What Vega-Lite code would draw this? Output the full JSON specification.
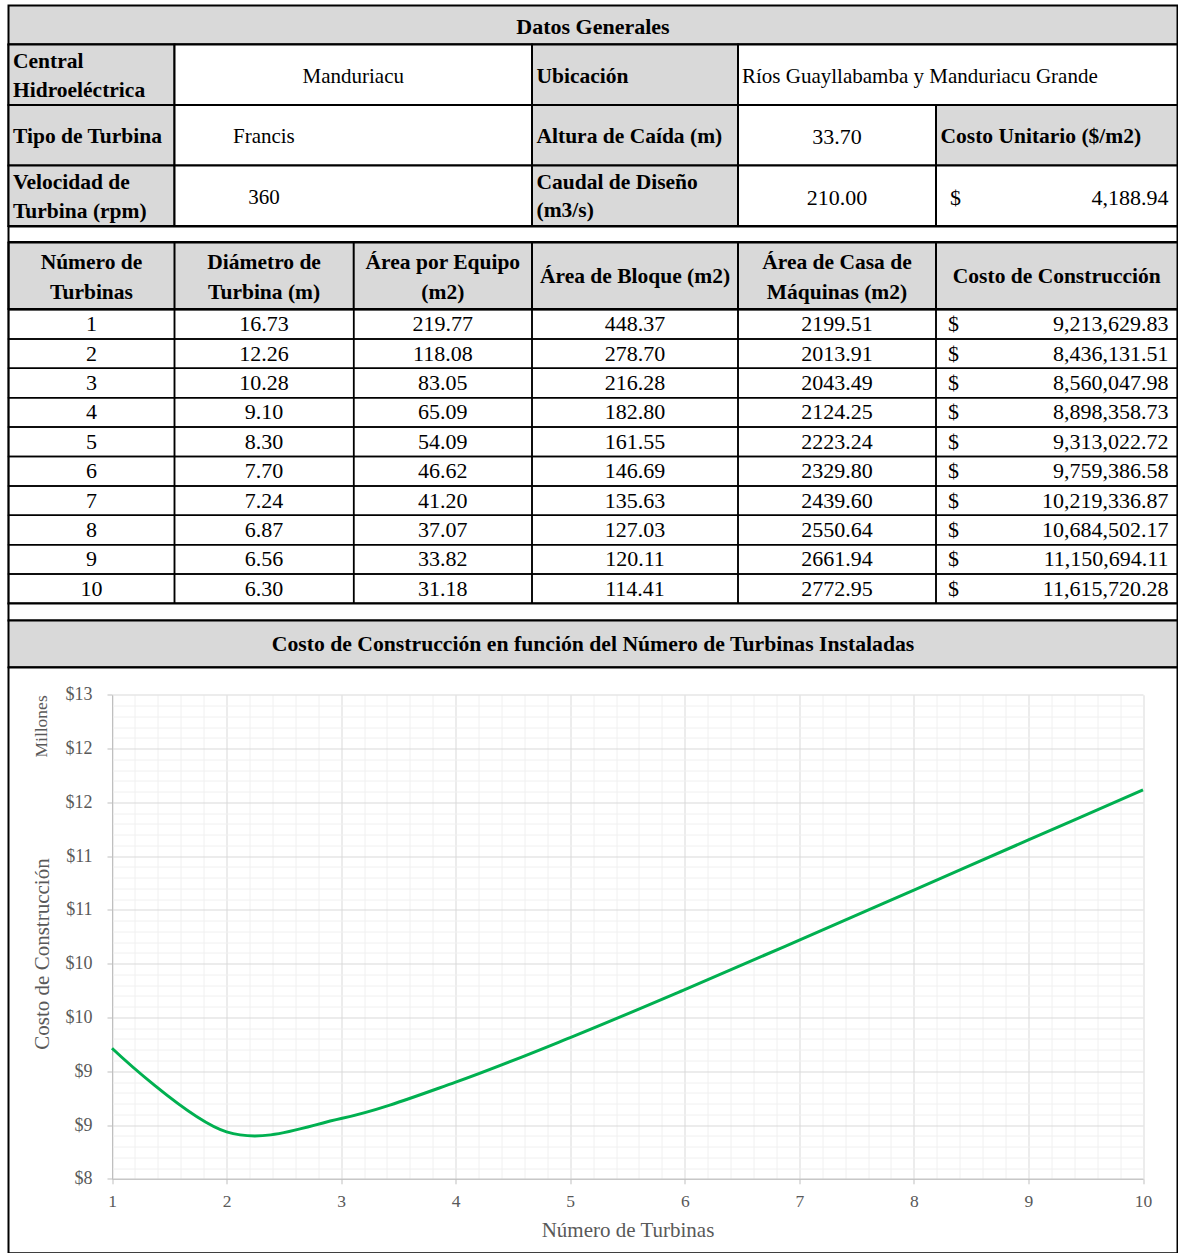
{
  "$schema": "https://vega.github.io/schema/vega-lite/v6.json",
  "padding": {"left": 6.5, "top": 4.5, "right": 0, "bottom": 0},
  "background": "white",
  "spacing": 0,
  "bounds": "flush",
  "config": {
    "view": {"stroke": null},
    "concat": {"spacing": 0},
    "text": {"font": "Liberation Serif", "fontSize": 21, "baseline": "middle", "lineBreak": "\n", "color": "black"},
    "axis": {"labelFont": "Liberation Serif", "titleFont": "Liberation Serif", "labelColor": "#595959", "titleColor": "#595959", "titleFontWeight": "normal", "labelFlush": false, "labelOverlap": false}
  },
  "datasets": {
    "general": [
      {"c": "A", "r": 1, "t": "Central\nHidroeléctrica"},
      {"c": "A", "r": 2, "t": "Tipo de Turbina"},
      {"c": "A", "r": 3, "t": "Velocidad de\nTurbina (rpm)"},
      {"c": "B", "r": 1, "t": "Manduriacu"},
      {"c": "B", "r": 2, "t": "Francis"},
      {"c": "B", "r": 3, "t": "360"},
      {"c": "C", "r": 1, "t": "Ubicación"},
      {"c": "C", "r": 2, "t": "Altura de Caída (m)"},
      {"c": "C", "r": 3, "t": "Caudal de Diseño\n(m3/s)"},
      {"c": "DE", "r": 1, "t": "Ríos Guayllabamba y Manduriacu Grande"},
      {"c": "D", "r": 2, "v": 33.70},
      {"c": "D", "r": 3, "v": 210.00},
      {"c": "E", "r": 2, "t": "Costo Unitario ($/m2)"},
      {"c": "E", "r": 3, "v": 4188.94}
    ],
    "headers": [
      {"c": 1, "t": "Número de\nTurbinas"},
      {"c": 2, "t": "Diámetro de\nTurbina (m)"},
      {"c": 3, "t": "Área por Equipo\n(m2)"},
      {"c": 4, "t": "Área de Bloque (m2)"},
      {"c": 5, "t": "Área de Casa de\nMáquinas (m2)"},
      {"c": 6, "t": "Costo de Construcción"}
    ],
    "tabla": [
      {"n": 1, "d": 16.73, "ae": 219.77, "ab": 448.37, "acm": 2199.51, "cc": 9213629.83},
      {"n": 2, "d": 12.26, "ae": 118.08, "ab": 278.70, "acm": 2013.91, "cc": 8436131.51},
      {"n": 3, "d": 10.28, "ae": 83.05, "ab": 216.28, "acm": 2043.49, "cc": 8560047.98},
      {"n": 4, "d": 9.10, "ae": 65.09, "ab": 182.80, "acm": 2124.25, "cc": 8898358.73},
      {"n": 5, "d": 8.30, "ae": 54.09, "ab": 161.55, "acm": 2223.24, "cc": 9313022.72},
      {"n": 6, "d": 7.70, "ae": 46.62, "ab": 146.69, "acm": 2329.80, "cc": 9759386.58},
      {"n": 7, "d": 7.24, "ae": 41.20, "ab": 135.63, "acm": 2439.60, "cc": 10219336.87},
      {"n": 8, "d": 6.87, "ae": 37.07, "ab": 127.03, "acm": 2550.64, "cc": 10684502.17},
      {"n": 9, "d": 6.56, "ae": 33.82, "ab": 120.11, "acm": 2661.94, "cc": 11150694.11},
      {"n": 10, "d": 6.30, "ae": 31.18, "ab": 114.41, "acm": 2772.95, "cc": 11615720.28}
    ]
  },
  "vconcat": [
    {
      "width": 1169, "height": 39,
      "view": {"fill": "#d9d9d9", "stroke": "black", "strokeWidth": 2},
      "data": {"values": [{"t": "Datos Generales"}]},
      "mark": {"type": "text", "fontWeight": "bold", "fontSize": 22, "dy": 1.5},
      "encoding": {"text": {"field": "t"}}
    },
    {
      "width": 1169, "height": 181.5,
      "view": {"fill": "white", "stroke": "black", "strokeWidth": 2},
      "data": {"name": "general"},
      "resolve": {"scale": {"x": "independent"}},
      "layer": [
        {
          "transform": [{"filter": "datum.c === 'A'"}],
          "layer": [
            {"mark": {"type": "rect", "fill": "#d9d9d9", "stroke": "black", "strokeWidth": 2},
             "encoding": {"x": {"datum": 0, "type": "quantitative", "scale": {"domain": [0, 1], "range": [0, 166]}, "axis": null}, "x2": {"datum": 1},
                          "y": {"field": "r", "type": "ordinal", "scale": {"domain": [1, 2, 3], "paddingInner": 0, "paddingOuter": 0}, "axis": null}}},
            {"transform": [{"filter": "datum.r !== 2"}],
             "mark": {"type": "text", "align": "left", "dx": 4.5, "dy": -13, "fontWeight": "bold", "fontSize": 21.5, "lineHeight": 29},
             "encoding": {"x": {"datum": 0, "type": "quantitative", "axis": null},
                          "y": {"field": "r", "type": "ordinal", "axis": null}, "text": {"field": "t"}}},
            {"transform": [{"filter": "datum.r === 2"}],
             "mark": {"type": "text", "align": "left", "dx": 4.5, "dy": 2, "fontWeight": "bold", "fontSize": 21.5},
             "encoding": {"x": {"datum": 0, "type": "quantitative", "axis": null},
                          "y": {"field": "r", "type": "ordinal", "axis": null}, "text": {"field": "t"}}}
          ]
        },
        {
          "transform": [{"filter": "datum.c === 'B'"}],
          "layer": [
            {"mark": {"type": "rect", "fill": "white", "stroke": "black", "strokeWidth": 2},
             "encoding": {"x": {"datum": 0, "type": "quantitative", "scale": {"domain": [0, 2], "range": [166, 523.5]}, "axis": null}, "x2": {"datum": 2},
                          "y": {"field": "r", "type": "ordinal", "axis": null}}},
            {"transform": [{"filter": "datum.r === 1"}],
             "mark": {"type": "text", "dy": 2},
             "encoding": {"x": {"datum": 1, "type": "quantitative", "axis": null},
                          "y": {"field": "r", "type": "ordinal", "axis": null}, "text": {"field": "t"}}},
            {"transform": [{"filter": "datum.r > 1"}],
             "mark": {"type": "text", "dy": 2},
             "encoding": {"x": {"datum": 0.5, "type": "quantitative", "axis": null},
                          "y": {"field": "r", "type": "ordinal", "axis": null}, "text": {"field": "t"}}}
          ]
        },
        {
          "transform": [{"filter": "datum.c === 'C'"}],
          "layer": [
            {"mark": {"type": "rect", "fill": "#d9d9d9", "stroke": "black", "strokeWidth": 2},
             "encoding": {"x": {"datum": 0, "type": "quantitative", "scale": {"domain": [0, 1], "range": [523.5, 729.5]}, "axis": null}, "x2": {"datum": 1},
                          "y": {"field": "r", "type": "ordinal", "axis": null}}},
            {"transform": [{"filter": "datum.r === 3"}],
             "mark": {"type": "text", "align": "left", "dx": 4.5, "dy": -13, "fontWeight": "bold", "fontSize": 21.5, "lineHeight": 28},
             "encoding": {"x": {"datum": 0, "type": "quantitative", "axis": null},
                          "y": {"field": "r", "type": "ordinal", "axis": null}, "text": {"field": "t"}}},
            {"transform": [{"filter": "datum.r !== 3"}],
             "mark": {"type": "text", "align": "left", "dx": 4.5, "dy": 2, "fontWeight": "bold", "fontSize": 21.5},
             "encoding": {"x": {"datum": 0, "type": "quantitative", "axis": null},
                          "y": {"field": "r", "type": "ordinal", "axis": null}, "text": {"field": "t"}}}
          ]
        },
        {
          "transform": [{"filter": "datum.c === 'DE'"}],
          "layer": [
            {"mark": {"type": "rect", "fill": "white", "stroke": "black", "strokeWidth": 2},
             "encoding": {"x": {"datum": 0, "type": "quantitative", "scale": {"domain": [0, 1], "range": [729.5, 1169]}, "axis": null}, "x2": {"datum": 1},
                          "y": {"field": "r", "type": "ordinal", "axis": null}}},
            {"mark": {"type": "text", "align": "left", "dx": 4, "dy": 2},
             "encoding": {"x": {"datum": 0, "type": "quantitative", "axis": null},
                          "y": {"field": "r", "type": "ordinal", "axis": null}, "text": {"field": "t"}}}
          ]
        },
        {
          "transform": [{"filter": "datum.c === 'D'"}],
          "layer": [
            {"mark": {"type": "rect", "fill": "white", "stroke": "black", "strokeWidth": 2},
             "encoding": {"x": {"datum": 0, "type": "quantitative", "scale": {"domain": [0, 1], "range": [729.5, 927.5]}, "axis": null}, "x2": {"datum": 1},
                          "y": {"field": "r", "type": "ordinal", "axis": null}}},
            {"mark": {"type": "text", "fontSize": 22, "dy": 2},
             "encoding": {"x": {"datum": 0.5, "type": "quantitative", "axis": null},
                          "y": {"field": "r", "type": "ordinal", "axis": null}, "text": {"field": "v", "type": "quantitative", "format": ".2f"}}}
          ]
        },
        {
          "transform": [{"filter": "datum.c === 'E' && datum.r === 2"}],
          "layer": [
            {"mark": {"type": "rect", "fill": "#d9d9d9", "stroke": "black", "strokeWidth": 2},
             "encoding": {"x": {"datum": 0, "type": "quantitative", "scale": {"domain": [0, 1], "range": [927.5, 1169]}, "axis": null}, "x2": {"datum": 1},
                          "y": {"field": "r", "type": "ordinal", "axis": null}}},
            {"mark": {"type": "text", "align": "left", "dx": 4.5, "dy": 2, "fontWeight": "bold", "fontSize": 21.5},
             "encoding": {"x": {"datum": 0, "type": "quantitative", "axis": null},
                          "y": {"field": "r", "type": "ordinal", "axis": null}, "text": {"field": "t"}}}
          ]
        },
        {
          "transform": [{"filter": "datum.c === 'E' && datum.r === 3"}],
          "layer": [
            {"mark": {"type": "rect", "fill": "white", "stroke": "black", "strokeWidth": 2},
             "encoding": {"x": {"datum": 0, "type": "quantitative", "scale": {"domain": [0, 1], "range": [927.5, 1169]}, "axis": null}, "x2": {"datum": 1},
                          "y": {"field": "r", "type": "ordinal", "axis": null}}},
            {"mark": {"type": "text", "align": "left", "dx": 14, "dy": 2, "fontSize": 22},
             "encoding": {"x": {"datum": 0, "type": "quantitative", "axis": null},
                          "y": {"field": "r", "type": "ordinal", "axis": null}, "text": {"value": "$"}}},
            {"mark": {"type": "text", "align": "right", "dx": -9, "dy": 2, "fontSize": 22},
             "encoding": {"x": {"datum": 1, "type": "quantitative", "axis": null},
                          "y": {"field": "r", "type": "ordinal", "axis": null}, "text": {"field": "v", "type": "quantitative", "format": ",.2f"}}}
          ]
        }
      ]
    },
    {
      "width": 1169, "height": 15.5,
      "view": {"fill": "white", "stroke": "black", "strokeWidth": 2},
      "data": {"values": [{}]},
      "mark": {"type": "text"},
      "encoding": {"text": {"value": ""}}
    },
    {
      "width": 1169, "height": 66.5,
      "view": {"fill": "#d9d9d9", "stroke": "black", "strokeWidth": 2},
      "data": {"name": "headers"},
      "resolve": {"scale": {"x": "independent"}},
      "layer": [
        {"transform": [{"filter": "datum.c === 1"}], "layer": [
          {"mark": {"type": "rule", "stroke": "black", "strokeWidth": 2}, "encoding": {"x": {"datum": 0, "type": "quantitative", "scale": {"domain": [0, 1], "range": [0, 166]}, "axis": null}}},
          {"mark": {"type": "text", "fontWeight": "bold", "fontSize": 21.5, "lineHeight": 30, "dy": -13}, "encoding": {"x": {"datum": 0.5, "type": "quantitative", "axis": null}, "text": {"field": "t"}}}
        ]},
        {"transform": [{"filter": "datum.c === 2"}], "layer": [
          {"mark": {"type": "rule", "stroke": "black", "strokeWidth": 2}, "encoding": {"x": {"datum": 0, "type": "quantitative", "scale": {"domain": [0, 1], "range": [166, 345.2]}, "axis": null}}},
          {"mark": {"type": "text", "fontWeight": "bold", "fontSize": 21.5, "lineHeight": 30, "dy": -13}, "encoding": {"x": {"datum": 0.5, "type": "quantitative", "axis": null}, "text": {"field": "t"}}}
        ]},
        {"transform": [{"filter": "datum.c === 3"}], "layer": [
          {"mark": {"type": "rule", "stroke": "black", "strokeWidth": 2}, "encoding": {"x": {"datum": 0, "type": "quantitative", "scale": {"domain": [0, 1], "range": [345.2, 523.5]}, "axis": null}}},
          {"mark": {"type": "text", "fontWeight": "bold", "fontSize": 21.5, "lineHeight": 30, "dy": -13}, "encoding": {"x": {"datum": 0.5, "type": "quantitative", "axis": null}, "text": {"field": "t"}}}
        ]},
        {"transform": [{"filter": "datum.c === 4"}], "layer": [
          {"mark": {"type": "rule", "stroke": "black", "strokeWidth": 2}, "encoding": {"x": {"datum": 0, "type": "quantitative", "scale": {"domain": [0, 1], "range": [523.5, 729.5]}, "axis": null}}},
          {"mark": {"type": "text", "fontWeight": "bold", "fontSize": 21.5, "dy": 1.5}, "encoding": {"x": {"datum": 0.5, "type": "quantitative", "axis": null}, "text": {"field": "t"}}}
        ]},
        {"transform": [{"filter": "datum.c === 5"}], "layer": [
          {"mark": {"type": "rule", "stroke": "black", "strokeWidth": 2}, "encoding": {"x": {"datum": 0, "type": "quantitative", "scale": {"domain": [0, 1], "range": [729.5, 927.5]}, "axis": null}}},
          {"mark": {"type": "text", "fontWeight": "bold", "fontSize": 21.5, "lineHeight": 30, "dy": -13}, "encoding": {"x": {"datum": 0.5, "type": "quantitative", "axis": null}, "text": {"field": "t"}}}
        ]},
        {"transform": [{"filter": "datum.c === 6"}], "layer": [
          {"mark": {"type": "rule", "stroke": "black", "strokeWidth": 2}, "encoding": {"x": {"datum": 0, "type": "quantitative", "scale": {"domain": [0, 1], "range": [927.5, 1169]}, "axis": null}}},
          {"mark": {"type": "text", "fontWeight": "bold", "fontSize": 21.5, "dy": 1.5}, "encoding": {"x": {"datum": 0.5, "type": "quantitative", "axis": null}, "text": {"field": "t"}}}
        ]}
      ]
    },
    {
      "width": 1169, "height": 294,
      "view": {"fill": "white", "stroke": "black", "strokeWidth": 2},
      "data": {"name": "tabla"},
      "resolve": {"scale": {"x": "independent"}},
      "layer": [
        {"layer": [
          {"mark": {"type": "rect", "filled": false, "stroke": "black", "strokeWidth": 1.5},
           "encoding": {"x": {"datum": 0, "type": "quantitative", "scale": {"domain": [0, 1], "range": [0, 166]}, "axis": null}, "x2": {"datum": 1},
                        "y": {"field": "n", "type": "ordinal", "scale": {"paddingInner": 0, "paddingOuter": 0}, "axis": null}}},
          {"mark": {"type": "text", "fontSize": 22},
           "encoding": {"x": {"datum": 0.5, "type": "quantitative", "axis": null}, "y": {"field": "n", "type": "ordinal", "axis": null},
                        "text": {"field": "n", "type": "quantitative", "format": "d"}}}
        ]},
        {"layer": [
          {"mark": {"type": "rect", "filled": false, "stroke": "black", "strokeWidth": 1.5},
           "encoding": {"x": {"datum": 0, "type": "quantitative", "scale": {"domain": [0, 1], "range": [166, 345.2]}, "axis": null}, "x2": {"datum": 1},
                        "y": {"field": "n", "type": "ordinal", "axis": null}}},
          {"mark": {"type": "text", "fontSize": 22},
           "encoding": {"x": {"datum": 0.5, "type": "quantitative", "axis": null}, "y": {"field": "n", "type": "ordinal", "axis": null},
                        "text": {"field": "d", "type": "quantitative", "format": ".2f"}}}
        ]},
        {"layer": [
          {"mark": {"type": "rect", "filled": false, "stroke": "black", "strokeWidth": 1.5},
           "encoding": {"x": {"datum": 0, "type": "quantitative", "scale": {"domain": [0, 1], "range": [345.2, 523.5]}, "axis": null}, "x2": {"datum": 1},
                        "y": {"field": "n", "type": "ordinal", "axis": null}}},
          {"mark": {"type": "text", "fontSize": 22},
           "encoding": {"x": {"datum": 0.5, "type": "quantitative", "axis": null}, "y": {"field": "n", "type": "ordinal", "axis": null},
                        "text": {"field": "ae", "type": "quantitative", "format": ".2f"}}}
        ]},
        {"layer": [
          {"mark": {"type": "rect", "filled": false, "stroke": "black", "strokeWidth": 1.5},
           "encoding": {"x": {"datum": 0, "type": "quantitative", "scale": {"domain": [0, 1], "range": [523.5, 729.5]}, "axis": null}, "x2": {"datum": 1},
                        "y": {"field": "n", "type": "ordinal", "axis": null}}},
          {"mark": {"type": "text", "fontSize": 22},
           "encoding": {"x": {"datum": 0.5, "type": "quantitative", "axis": null}, "y": {"field": "n", "type": "ordinal", "axis": null},
                        "text": {"field": "ab", "type": "quantitative", "format": ".2f"}}}
        ]},
        {"layer": [
          {"mark": {"type": "rect", "filled": false, "stroke": "black", "strokeWidth": 1.5},
           "encoding": {"x": {"datum": 0, "type": "quantitative", "scale": {"domain": [0, 1], "range": [729.5, 927.5]}, "axis": null}, "x2": {"datum": 1},
                        "y": {"field": "n", "type": "ordinal", "axis": null}}},
          {"mark": {"type": "text", "fontSize": 22},
           "encoding": {"x": {"datum": 0.5, "type": "quantitative", "axis": null}, "y": {"field": "n", "type": "ordinal", "axis": null},
                        "text": {"field": "acm", "type": "quantitative", "format": ".2f"}}}
        ]},
        {"layer": [
          {"mark": {"type": "rect", "filled": false, "stroke": "black", "strokeWidth": 1.5},
           "encoding": {"x": {"datum": 0, "type": "quantitative", "scale": {"domain": [0, 1], "range": [927.5, 1169]}, "axis": null}, "x2": {"datum": 1},
                        "y": {"field": "n", "type": "ordinal", "axis": null}}},
          {"mark": {"type": "text", "align": "left", "dx": 12, "fontSize": 22},
           "encoding": {"x": {"datum": 0, "type": "quantitative", "axis": null}, "y": {"field": "n", "type": "ordinal", "axis": null},
                        "text": {"value": "$"}}},
          {"mark": {"type": "text", "align": "right", "dx": -9, "fontSize": 22},
           "encoding": {"x": {"datum": 1, "type": "quantitative", "axis": null}, "y": {"field": "n", "type": "ordinal", "axis": null},
                        "text": {"field": "cc", "type": "quantitative", "format": ",.2f"}}}
        ]}
      ]
    },
    {
      "width": 1169, "height": 17,
      "view": {"fill": "white", "stroke": "black", "strokeWidth": 2},
      "data": {"values": [{}]},
      "mark": {"type": "text"},
      "encoding": {"text": {"value": ""}}
    },
    {
      "width": 1169, "height": 46.7,
      "view": {"fill": "#d9d9d9", "stroke": "black", "strokeWidth": 2},
      "data": {"values": [{"t": "Costo de Construcción en función del Número de Turbinas Instaladas"}]},
      "mark": {"type": "text", "fontWeight": "bold", "fontSize": 21.7},
      "encoding": {"text": {"field": "t"}}
    },
    {
      "width": 1169, "height": 585.8,
      "view": {"fill": "white", "stroke": "black", "strokeWidth": 2},
      "data": {"name": "tabla"},
      "resolve": {"axis": {"x": "independent", "y": "independent"}},
      "layer": [
        {
          "mark": {"type": "line", "strokeOpacity": 0},
          "encoding": {
            "x": {"field": "n", "type": "quantitative",
                  "scale": {"domain": [1, 10], "range": [103.5, 1134.5], "nice": false, "zero": false},
                  "axis": {"orient": "top", "values": [1.2,1.4,1.6,1.8,2.2,2.4,2.6,2.8,3.2,3.4,3.6,3.8,4.2,4.4,4.6,4.8,5.2,5.4,5.6,5.8,6.2,6.4,6.6,6.8,7.2,7.4,7.6,7.8,8.2,8.4,8.6,8.8,9.2,9.4,9.6,9.8],
                           "grid": true, "gridColor": "#f0f0f0", "gridWidth": 1, "labels": false, "ticks": false, "domain": false, "title": null}},
            "y": {"field": "cc", "type": "quantitative",
                  "scale": {"domain": [8000000, 12500000], "range": [511.3, 27.3], "nice": false, "zero": false},
                  "axis": {"orient": "left", "offset": -103.5, "values": [8100000,8200000,8300000,8400000,8600000,8700000,8800000,8900000,9100000,9200000,9300000,9400000,9600000,9700000,9800000,9900000,10100000,10200000,10300000,10400000,10600000,10700000,10800000,10900000,11100000,11200000,11300000,11400000,11600000,11700000,11800000,11900000,12100000,12200000,12300000,12400000],
                           "grid": true, "gridColor": "#f0f0f0", "gridWidth": 1, "labels": false, "ticks": false, "domain": false,
                           "title": "Millones", "titleAnchor": "end", "titlePadding": 62, "titleFontSize": 17.5}}
          }
        },
        {
          "mark": {"type": "line", "strokeOpacity": 0},
          "encoding": {
            "x": {"field": "n", "type": "quantitative",
                  "axis": {"orient": "top", "values": [1,2,3,4,5,6,7,8,9,10],
                           "grid": true, "gridColor": "#d9d9d9", "gridWidth": 1, "labels": false, "ticks": false, "domain": false, "title": null}},
            "y": {"field": "cc", "type": "quantitative", "axis": null}
          }
        },
        {
          "mark": {"type": "line", "color": "#00b050", "strokeWidth": 3, "interpolate": "cardinal"},
          "encoding": {
            "x": {"field": "n", "type": "quantitative",
                  "axis": {"orient": "bottom", "offset": -74.5, "values": [1,2,3,4,5,6,7,8,9,10], "format": "d",
                           "grid": false, "domainColor": "#bfbfbf", "tickColor": "#bfbfbf", "tickSize": 5,
                           "labelFontSize": 17.5, "labelPadding": 9, "title": "Número de Turbinas", "titleFontSize": 21, "titlePadding": 9}},
            "y": {"field": "cc", "type": "quantitative",
                  "axis": {"orient": "left", "offset": -103.5, "values": [8000000,8500000,9000000,9500000,10000000,10500000,11000000,11500000,12000000,12500000],
                           "labelExpr": "'$' + format(datum.value / 1000000, '.0f')",
                           "grid": true, "gridColor": "#d9d9d9", "domainColor": "#bfbfbf", "tickColor": "#bfbfbf", "tickSize": 5,
                           "labelFontSize": 18, "labelPadding": 15, "title": "Costo de Construcción", "titleFontSize": 21, "titlePadding": 13, "titleY": 286}}
          }
        }
      ]
    }
  ]
}
